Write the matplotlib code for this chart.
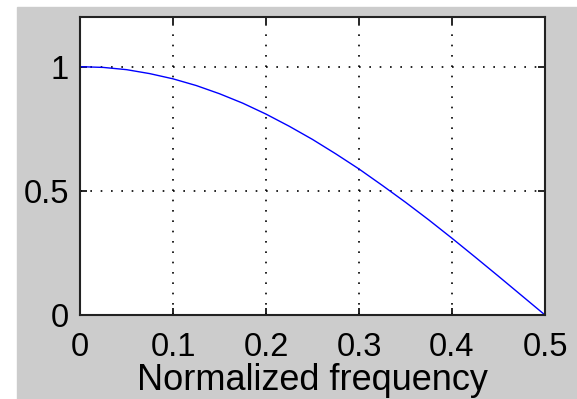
import matplotlib
matplotlib.use('Agg')
import matplotlib.pyplot as plt
from matplotlib.patches import Rectangle

plt.rcParams['font.family'] = ['Liberation Sans', 'DejaVu Sans']

# frequency response sampled on the normalized frequency axis
freq = [0.0, 0.025, 0.05, 0.075, 0.1, 0.125, 0.15, 0.175, 0.2, 0.225, 0.25,
        0.275, 0.3, 0.325, 0.35, 0.375, 0.4, 0.425, 0.45, 0.475, 0.5]
resp = [1.0, 0.997, 0.988, 0.972, 0.951, 0.924, 0.891, 0.853, 0.809, 0.760,
        0.707, 0.649, 0.588, 0.522, 0.454, 0.383, 0.309, 0.233, 0.156, 0.078,
        0.0]

xticks = [0, 0.1, 0.2, 0.3, 0.4, 0.5]
xtick_labels = ['0', '0.1', '0.2', '0.3', '0.4', '0.5']
yticks = [0, 0.5, 1]
ytick_labels = ['0', '0.5', '1']

fig = plt.figure(figsize=(5.77, 3.99), dpi=100, facecolor='white')
# grey panel behind the axes, leaving a thin white strip top and left
fig.add_artist(Rectangle((17 / 577, 0), 1 - 17 / 577, 1 - 7 / 399,
                         transform=fig.transFigure, color='#cccccc',
                         zorder=-10))

ax = fig.add_axes([80 / 577, 84 / 399, 465 / 577, 298 / 399])
ax.set_facecolor('white')
ax.plot(freq, resp, color='blue', linewidth=1.0)

ax.set_xlim(0, 0.5)
ax.set_ylim(0, 1.2)
ax.set_xticks(xticks)
ax.set_xticklabels(xtick_labels)
ax.set_yticks(yticks)
ax.set_yticklabels(ytick_labels)
ax.tick_params(direction='in', length=5, width=1.2, labelsize=23.5,
               top=True, right=True)
ax.tick_params(axis='x', pad=12)
ax.tick_params(axis='y', pad=8)
ax.grid(True, color='black', linestyle=(0, (1, 5.2)), linewidth=1.2)
for s in ax.spines.values():
    s.set_linewidth(1.5)
    s.set_color('#222222')

ax.set_xlabel('Normalized frequency', fontsize=26, labelpad=0)

fig.savefig('out.png', dpi=100, facecolor=fig.get_facecolor())
